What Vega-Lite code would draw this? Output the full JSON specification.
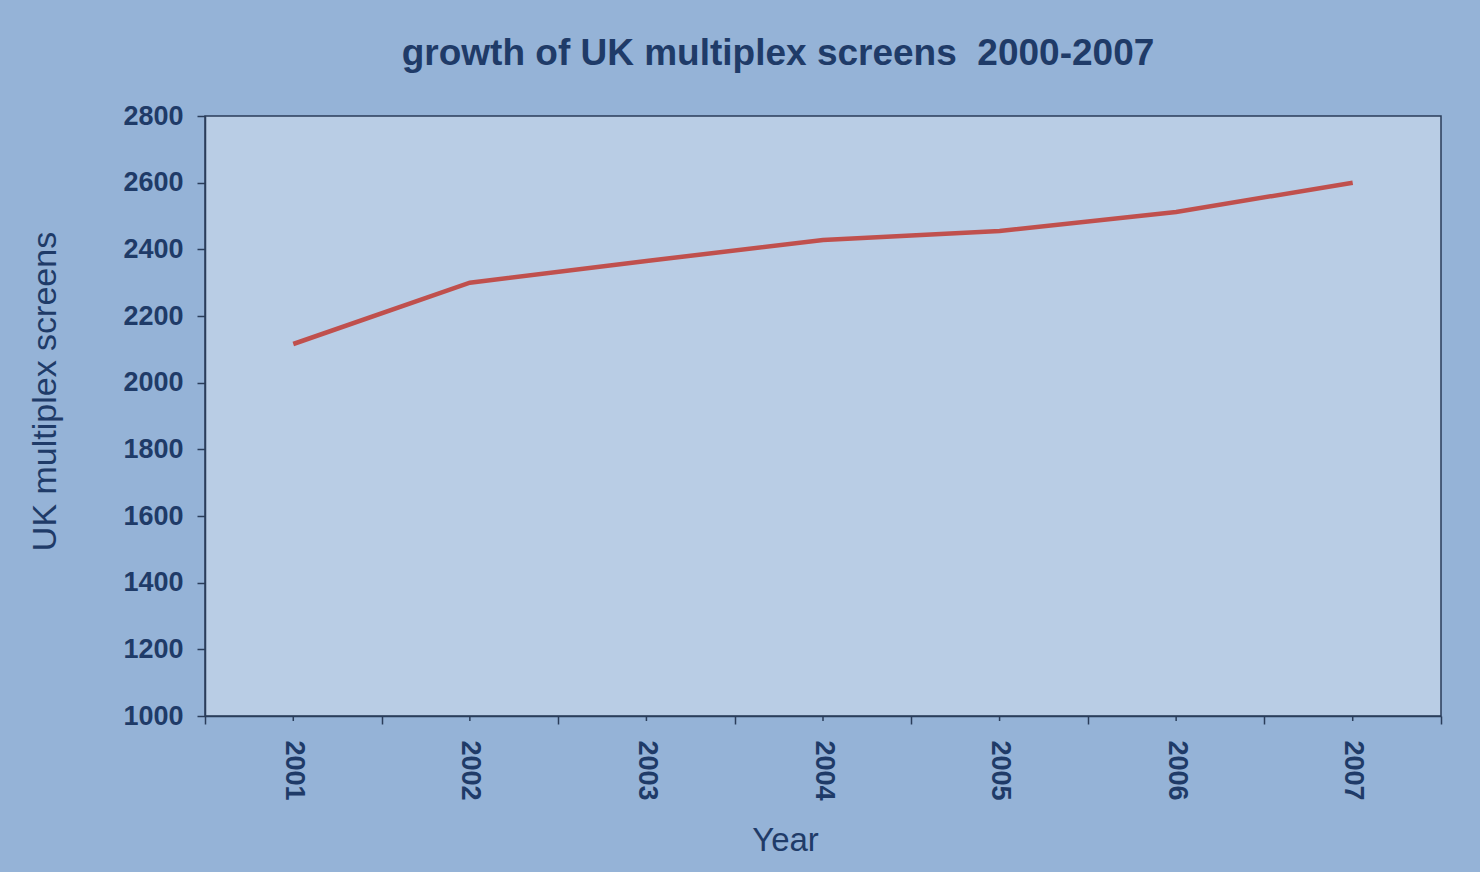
{
  "$schema": "https://vega.github.io/schema/vega-lite/v6.json",
  "width": 1236,
  "height": 600,
  "autosize": {"type": "none"},
  "padding": {"left": 205, "top": 116, "right": 39, "bottom": 156},
  "background": "#95b3d7",
  "title": {
    "text": "growth of UK multiplex screens \u00a02000-2007",
    "anchor": "middle",
    "dx": -45,
    "dy": 50,
    "baseline": "alphabetic",
    "offset": 50,
    "font": "Liberation Sans",
    "fontSize": 37,
    "fontWeight": "bold",
    "color": "#1f3b68"
  },
  "config": {
    "view": {"fill": "#b9cde5", "stroke": "#2a3d5a", "strokeWidth": 1.5},
    "axis": {
      "labelFont": "Liberation Sans",
      "titleFont": "Liberation Sans",
      "labelColor": "#1f3b68",
      "titleColor": "#1f3b68",
      "labelFontWeight": "bold",
      "titleFontWeight": "normal",
      "domainColor": "#2a3d5a",
      "tickColor": "#2a3d5a",
      "domainWidth": 1.5,
      "tickWidth": 1.5,
      "grid": false
    }
  },
  "data": {
    "values": [
      {"Year": "2001", "screens": 2116},
      {"Year": "2002", "screens": 2300},
      {"Year": "2003", "screens": 2365},
      {"Year": "2004", "screens": 2428},
      {"Year": "2005", "screens": 2455},
      {"Year": "2006", "screens": 2512},
      {"Year": "2007", "screens": 2600}
    ]
  },
  "encoding": {
    "x": {
      "field": "Year",
      "type": "ordinal",
      "scale": {"paddingInner": 0, "paddingOuter": 0},
      "axis": {
        "title": "Year",
        "labelAngle": 90,
        "labelAlign": "left",
        "labelBaseline": "middle",
        "labelFontSize": 27,
        "labelPadding": 16,
        "tickBand": "extent",
        "tickSize": 8,
        "titleFontSize": 33,
        "titleX": 580,
        "titleY": 124,
        "titleBaseline": "middle",
        "titleAlign": "center"
      }
    }
  },
  "layer": [
    {
      "mark": {"type": "rule", "color": "#2a3d5a", "strokeWidth": 1.5, "y2Offset": 5},
      "encoding": {
        "y": {"datum": 1000, "type": "quantitative"},
        "y2": {"datum": 1000}
      }
    },
    {
      "mark": {"type": "line", "color": "#c0504d", "strokeWidth": 4.5},
      "encoding": {
        "y": {
          "field": "screens",
          "type": "quantitative",
          "scale": {"domain": [1000, 2800], "nice": false, "zero": false},
          "axis": {
            "title": "UK multiplex screens",
            "format": "d",
            "values": [1000, 1200, 1400, 1600, 1800, 2000, 2200, 2400, 2600, 2800],
            "labelFontSize": 27,
            "labelPadding": 14,
            "tickSize": 8,
            "titleFontSize": 34,
            "titleX": -160,
            "titleY": 275,
            "titleAngle": -90,
            "titleBaseline": "middle",
            "titleAlign": "center"
          }
        }
      }
    }
  ]
}
